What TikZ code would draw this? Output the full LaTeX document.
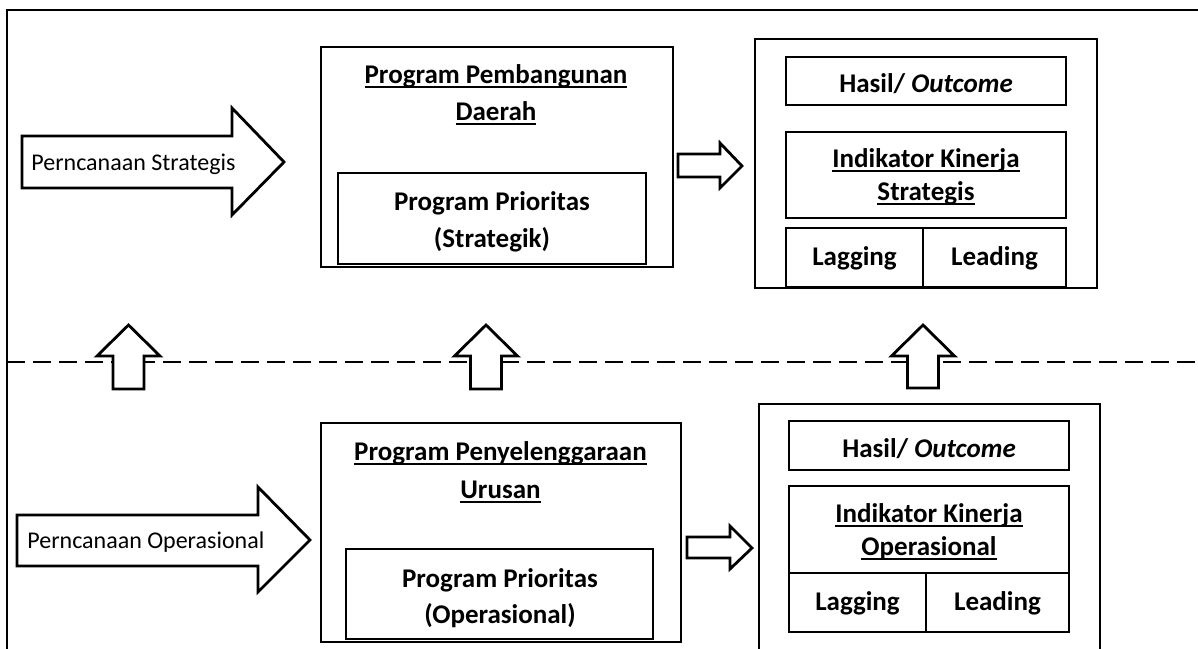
\documentclass[tikz,border=0pt]{standalone}
\usepackage{fontspec}
\setmainfont{Carlito}
\usepackage{tikz}

\newcommand\ulin[1]{\setbox0\hbox{#1}\rlap{\rule[-4.5pt]{\wd0}{1.8pt}}\box0}

\begin{document}
\begin{tikzpicture}[x=1pt, y=-1pt, line width=2.8pt,
  box/.style={draw, anchor=north west, inner sep=0pt, outer sep=0pt},
  blk/.style={draw, fill=white, line join=miter},
  title/.style={font=\fontsize{27}{37}\selectfont\bfseries, align=center, anchor=base, inner sep=0pt},
  plain/.style={font=\fontsize{24}{29}\selectfont, anchor=base west, inner sep=0pt}]
  \useasboundingbox (0,0) rectangle (1198,648);

  % frame and divider
  \draw (1198,10) -- (7,10) -- (7,660);
  \draw[line width=2.2pt, dash pattern=on 18pt off 8pt] (7,362) -- (1198,362);

  % strategic level
  \draw[blk] (22,136) -- (232,136) -- (232,108) -- (284,162) -- (232,215) -- (232,188) -- (22,188) -- cycle;
  \node[plain] (strat) at (30,170) {Perncanaan Strategis};
  \node[box, minimum width=352pt, minimum height=220pt] (pbd) at (321,47) {};
  \node[box, minimum width=308pt, minimum height=91pt] (pps) at (338,173) {};
  \node[title] (pbdt) at (496,120) {\ulin{Program Pembangunan}\\\ulin{Daerah}};
  \node[title] (ppst) at (492,247) {Program Prioritas\\(Strategik)};
  \draw[blk] (678,154) -- (720,154) -- (720,143) -- (742,166) -- (720,188) -- (720,177) -- (678,177) -- cycle;
  \node[box, minimum width=342pt, minimum height=249pt] (iks) at (755,39) {};
  \node[box, minimum width=280pt, minimum height=48pt] (hs) at (786,57) {};
  \node[box, minimum width=280pt, minimum height=86pt] (ikst) at (786,132) {};
  \node[box, minimum width=137pt, minimum height=59pt] (lags) at (786,228) {};
  \node[box, minimum width=143pt, minimum height=59pt] (leads) at (923,228) {};
  \node[title] (hst) at (926,92) {Hasil/ \textit{Outcome}};
  \node[title, font=\fontsize{27}{33}\selectfont\bfseries] (ikstt) at (926,200) {\ulin{Indikator Kinerja}\\\ulin{Strategis}};
  \node[title] (lagst) at (854.5,265) {Lagging};
  \node[title] (leadst) at (994.5,265) {Leading};

  % operational level
  \draw[blk] (17,515) -- (258,515) -- (258,487) -- (310,540) -- (258,592) -- (258,566) -- (17,566) -- cycle;
  \node[plain] (oper) at (26,548) {Perncanaan Operasional};
  \node[box, minimum width=360pt, minimum height=219pt] (ppu) at (321,423) {};
  \node[box, minimum width=307pt, minimum height=90pt] (ppo) at (346,549) {};
  \node[title, font=\fontsize{27}{38}\selectfont\bfseries] (pput) at (500.5,498) {\ulin{Program Penyelenggaraan}\\\ulin{Urusan}};
  \node[title, font=\fontsize{27}{36}\selectfont\bfseries] (ppot) at (500,623) {Program Prioritas\\(Operasional)};
  \draw[blk] (687,537) -- (730,537) -- (730,526) -- (752,548) -- (730,569) -- (730,558) -- (687,558) -- cycle;
  \node[box, minimum width=341pt, minimum height=260pt] (iko) at (759,404) {};
  \node[box, minimum width=280pt, minimum height=49pt] (ho) at (789,421) {};
  \node[box, minimum width=280pt, minimum height=87pt] (ikot) at (789,486) {};
  \node[box, minimum width=137pt, minimum height=59pt] (lago) at (789,573) {};
  \node[box, minimum width=143pt, minimum height=59pt] (leado) at (926,573) {};
  \node[title] (hot) at (929,457) {Hasil/ \textit{Outcome}};
  \node[title, font=\fontsize{27}{33}\selectfont\bfseries] (ikott) at (929,555) {\ulin{Indikator Kinerja}\\\ulin{Operasional}};
  \node[title] (lagot) at (857.5,610) {Lagging};
  \node[title] (leadot) at (997.5,610) {Leading};

  % upward arrows across the divider
  \foreach \cx/\by in {128.5/389, 486/389, 923/388}
    \draw[blk, shift={(\cx,0)}] (-15.5,\by) -- (-15.5,356) -- (-31.5,356) -- (0,325) -- (31.5,356) -- (15.5,356) -- (15.5,\by) -- cycle;
\end{tikzpicture}
\end{document}
